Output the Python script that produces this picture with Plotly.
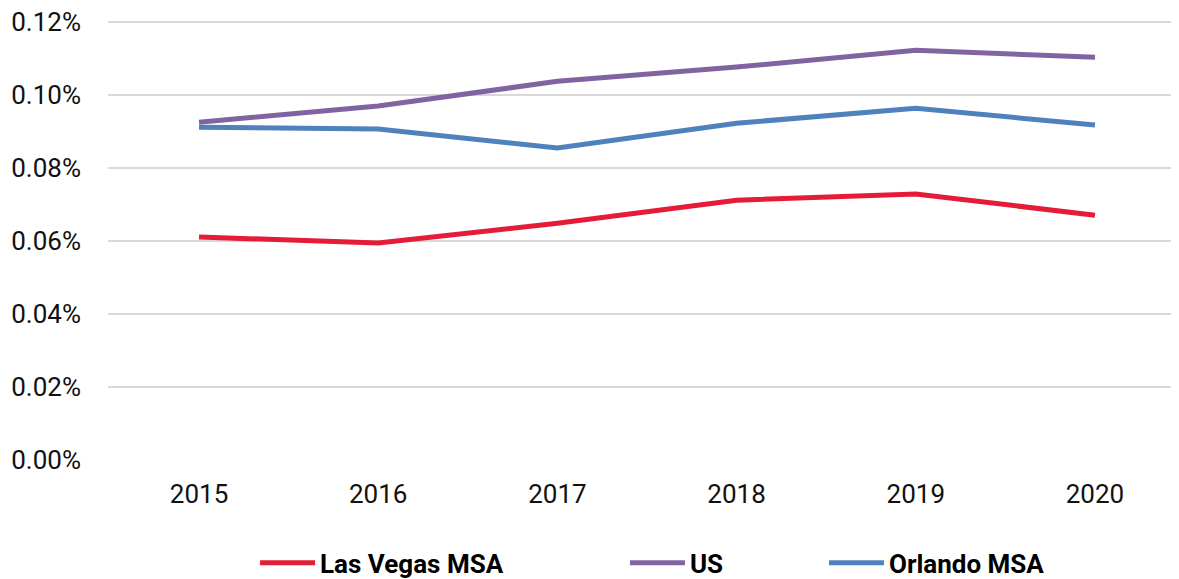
import plotly.graph_objects as go

years = ["2015", "2016", "2017", "2018", "2019", "2020"]
las_vegas = [0.000611, 0.000595, 0.000649, 0.000712, 0.000729, 0.000671]
us = [0.000926, 0.000970, 0.001038, 0.001077, 0.001123, 0.001104]
orlando = [0.000912, 0.000907, 0.000855, 0.000923, 0.000964, 0.000918]
y_ticks = [0.0, 0.0002, 0.0004, 0.0006, 0.0008, 0.0010, 0.0012]
y_tick_labels = ["0.00%", "0.02%", "0.04%", "0.06%", "0.08%", "0.10%", "0.12%"]

fig = go.Figure()
fig.add_trace(go.Scatter(x=years, y=las_vegas, name="Las Vegas MSA", mode="lines",
                         line=dict(color="#E41C38", width=5), legend="legend"))
fig.add_trace(go.Scatter(x=years, y=us, name="US", mode="lines",
                         line=dict(color="#8064A2", width=5), legend="legend2"))
fig.add_trace(go.Scatter(x=years, y=orlando, name="Orlando MSA", mode="lines",
                         line=dict(color="#4F81BD", width=5), legend="legend3"))

legfont = dict(size=26, family="Roboto", weight="bold", color="#000000")
# plot area height is 440 px here; legend centre ~103 px below plot bottom
leg_common = dict(orientation="h", xanchor="left", y=-0.234, yanchor="middle",
                  font=legfont, itemwidth=55, bgcolor="rgba(0,0,0,0)")

fig.update_layout(
    width=1171, height=571,
    margin=dict(l=100, r=0, t=12, b=119, autoexpand=False),
    paper_bgcolor="white", plot_bgcolor="white",
    font=dict(family="Roboto", size=26, color="#111111"),
    xaxis=dict(type="category", range=[-0.508, 5.469], showgrid=False,
               showline=False, zeroline=False, ticks="", ticklabelstandoff=16,
               tickfont=dict(size=26)),
    yaxis=dict(range=[0, 0.001206], tickmode="array", tickvals=y_ticks,
               ticktext=y_tick_labels, ticklabeloverflow="allow",
               showgrid=True, gridcolor="#D9D9D9", gridwidth=2,
               zeroline=False, showline=False, ticks="", ticklabelstandoff=26,
               tickfont=dict(size=26)),
    legend=dict(x=0.1373, **leg_common),
    legend2=dict(x=0.4827, **leg_common),
    legend3=dict(x=0.6685, **leg_common),
    showlegend=True,
)

fig.write_html("out.html")
